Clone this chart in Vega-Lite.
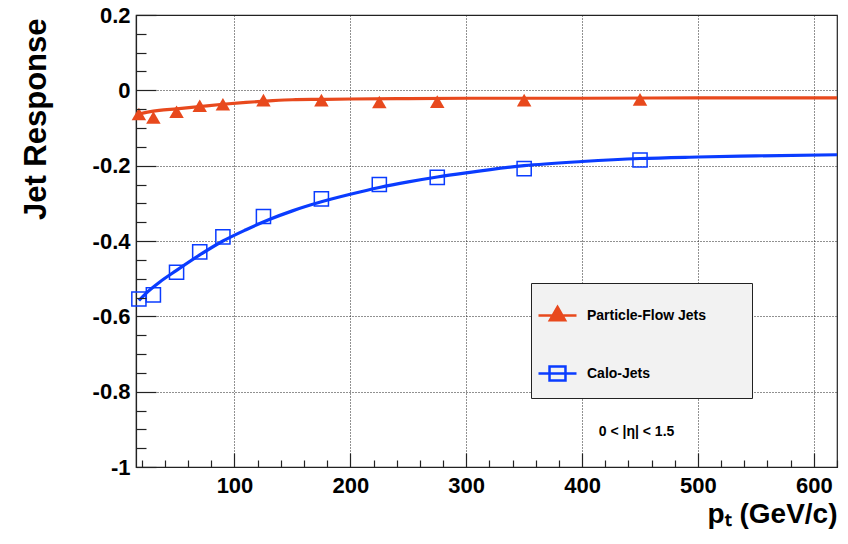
{
  "$schema": "https://vega.github.io/schema/vega-lite/v6.json",
  "width": 701,
  "height": 452,
  "autosize": {"type": "none"},
  "padding": {"left": 136, "top": 15, "right": 11, "bottom": 77},
  "background": "white",
  "config": {
    "font": "Liberation Sans",
    "view": {"stroke": "#222", "strokeWidth": 1.2},
    "axis": {"labelFont": "Liberation Sans", "titleFont": "Liberation Sans"}
  },
  "datasets": {
    "fit": [
      {"pt": 17.5, "resp": -0.063, "series": "Particle-Flow Jets"},
      {"pt": 25, "resp": -0.058, "series": "Particle-Flow Jets"},
      {"pt": 35, "resp": -0.053, "series": "Particle-Flow Jets"},
      {"pt": 50, "resp": -0.049, "series": "Particle-Flow Jets"},
      {"pt": 70, "resp": -0.043, "series": "Particle-Flow Jets"},
      {"pt": 90, "resp": -0.037, "series": "Particle-Flow Jets"},
      {"pt": 110, "resp": -0.032, "series": "Particle-Flow Jets"},
      {"pt": 130, "resp": -0.028, "series": "Particle-Flow Jets"},
      {"pt": 150, "resp": -0.025, "series": "Particle-Flow Jets"},
      {"pt": 175, "resp": -0.024, "series": "Particle-Flow Jets"},
      {"pt": 200, "resp": -0.023, "series": "Particle-Flow Jets"},
      {"pt": 250, "resp": -0.022, "series": "Particle-Flow Jets"},
      {"pt": 300, "resp": -0.021, "series": "Particle-Flow Jets"},
      {"pt": 400, "resp": -0.021, "series": "Particle-Flow Jets"},
      {"pt": 500, "resp": -0.020, "series": "Particle-Flow Jets"},
      {"pt": 620, "resp": -0.020, "series": "Particle-Flow Jets"},
      {"pt": 17.5, "resp": -0.558, "series": "Calo-Jets"},
      {"pt": 25, "resp": -0.535, "series": "Calo-Jets"},
      {"pt": 35, "resp": -0.510, "series": "Calo-Jets"},
      {"pt": 50, "resp": -0.478, "series": "Calo-Jets"},
      {"pt": 70, "resp": -0.437, "series": "Calo-Jets"},
      {"pt": 90, "resp": -0.400, "series": "Calo-Jets"},
      {"pt": 110, "resp": -0.370, "series": "Calo-Jets"},
      {"pt": 130, "resp": -0.343, "series": "Calo-Jets"},
      {"pt": 150, "resp": -0.320, "series": "Calo-Jets"},
      {"pt": 175, "resp": -0.296, "series": "Calo-Jets"},
      {"pt": 200, "resp": -0.276, "series": "Calo-Jets"},
      {"pt": 225, "resp": -0.258, "series": "Calo-Jets"},
      {"pt": 250, "resp": -0.243, "series": "Calo-Jets"},
      {"pt": 275, "resp": -0.230, "series": "Calo-Jets"},
      {"pt": 300, "resp": -0.219, "series": "Calo-Jets"},
      {"pt": 350, "resp": -0.200, "series": "Calo-Jets"},
      {"pt": 400, "resp": -0.189, "series": "Calo-Jets"},
      {"pt": 450, "resp": -0.181, "series": "Calo-Jets"},
      {"pt": 500, "resp": -0.177, "series": "Calo-Jets"},
      {"pt": 550, "resp": -0.174, "series": "Calo-Jets"},
      {"pt": 620, "resp": -0.171, "series": "Calo-Jets"}
    ],
    "points": [
      {"pt": 17.5, "resp": -0.063, "series": "Particle-Flow Jets"},
      {"pt": 30, "resp": -0.072, "series": "Particle-Flow Jets"},
      {"pt": 50, "resp": -0.057, "series": "Particle-Flow Jets"},
      {"pt": 70, "resp": -0.041, "series": "Particle-Flow Jets"},
      {"pt": 90, "resp": -0.037, "series": "Particle-Flow Jets"},
      {"pt": 125, "resp": -0.026, "series": "Particle-Flow Jets"},
      {"pt": 175, "resp": -0.026, "series": "Particle-Flow Jets"},
      {"pt": 225, "resp": -0.031, "series": "Particle-Flow Jets"},
      {"pt": 275, "resp": -0.030, "series": "Particle-Flow Jets"},
      {"pt": 350, "resp": -0.026, "series": "Particle-Flow Jets"},
      {"pt": 450, "resp": -0.024, "series": "Particle-Flow Jets"},
      {"pt": 17.5, "resp": -0.554, "series": "Calo-Jets"},
      {"pt": 30, "resp": -0.543, "series": "Calo-Jets"},
      {"pt": 50, "resp": -0.483, "series": "Calo-Jets"},
      {"pt": 70, "resp": -0.429, "series": "Calo-Jets"},
      {"pt": 90, "resp": -0.389, "series": "Calo-Jets"},
      {"pt": 125, "resp": -0.335, "series": "Calo-Jets"},
      {"pt": 175, "resp": -0.288, "series": "Calo-Jets"},
      {"pt": 225, "resp": -0.250, "series": "Calo-Jets"},
      {"pt": 275, "resp": -0.231, "series": "Calo-Jets"},
      {"pt": 350, "resp": -0.208, "series": "Calo-Jets"},
      {"pt": 450, "resp": -0.185, "series": "Calo-Jets"}
    ],
    "note": [
      {"pt": 447, "resp": -0.907, "label": "0 < |η| < 1.5"}
    ]
  },
  "resolve": {"axis": {"x": "independent", "y": "independent"}},
  "layer": [
    {
      "data": {"name": "fit"},
      "mark": {"type": "line", "strokeWidth": 3.2, "interpolate": "monotone", "clip": true},
      "encoding": {
        "x": {
          "field": "pt", "type": "quantitative",
          "scale": {"domain": [15, 620], "nice": false, "zero": false},
          "axis": {
            "orient": "bottom",
            "title": "pₜ (GeV/c)",
            "titleFontSize": 28, "titleFontWeight": "bold", "titleColor": "black",
            "titleAnchor": "end", "titleAlign": "right", "titleBaseline": "alphabetic",
            "titleX": 701, "titleY": 55,
            "values": [100, 200, 300, 400, 500, 600],
            "format": "d",
            "labelFontSize": 22, "labelFontWeight": "bold", "labelColor": "black",
            "labelPadding": 22,
            "tickSize": -14, "tickColor": "#222", "tickWidth": 1.2,
            "domainColor": "#222", "domainWidth": 1.2,
            "grid": true, "gridColor": "#222", "gridDash": [1, 2], "gridWidth": 1
          }
        },
        "y": {
          "field": "resp", "type": "quantitative",
          "scale": {"domain": [-1, 0.2], "nice": false, "zero": false},
          "axis": {
            "orient": "left",
            "title": "Jet Response",
            "titleFontSize": 31, "titleFontWeight": "bold", "titleColor": "black",
            "titleAngle": -90, "titleAlign": "right", "titleBaseline": "alphabetic",
            "titleX": -91, "titleY": 3,
            "values": [-1, -0.8, -0.6, -0.4, -0.2, 0, 0.2],
            "labelExpr": "'' + datum.value",
            "labelFontSize": 22, "labelFontWeight": "bold", "labelColor": "black",
            "labelPadding": 26,
            "tickSize": -20, "tickColor": "#222", "tickWidth": 1.2,
            "domainColor": "#222", "domainWidth": 1.2,
            "grid": true, "gridColor": "#222", "gridDash": [1, 2], "gridWidth": 1
          }
        },
        "color": {
          "field": "series", "type": "nominal",
          "scale": {"domain": ["Particle-Flow Jets", "Calo-Jets"], "range": ["#e8491d", "#0a3cff"]},
          "legend": {
            "orient": "none", "legendX": 395, "legendY": 268,
            "title": null,
            "fillColor": "#f2f2f2", "strokeColor": "#222", "padding": 12,
            "rowPadding": 27, "symbolSize": 1444, "labelOffset": 9, "symbolOffset": -6,
            "labelFontSize": 14, "labelFontWeight": "bold", "labelColor": "black",
            "labelExpr": "datum.label + ' \u2800\u2800\u2800'",
            "encode": {
              "symbols": {
                "update": {
                  "shape": {"signal": "datum.value === 'Calo-Jets' ? 'M-1,0H1M-0.42,-0.37H0.42V0.37H-0.42Z' : 'M-1,0H1M0,-0.45L0.4,0.25L-0.4,0.25Z'"},
                  "fill": {"signal": "datum.value === 'Calo-Jets' ? '#f2f2f2' : '#e8491d'"},
                  "fillOpacity": {"signal": "datum.value === 'Calo-Jets' ? 0 : 1"},
                  "stroke": {"signal": "datum.value === 'Calo-Jets' ? '#0a3cff' : '#e8491d'"},
                  "strokeWidth": {"value": 2.5},
                  "size": {"value": 1444},
                  "opacity": {"value": 1}
                }
              }
            }
          }
        }
      }
    },
    {
      "data": {"name": "points"},
      "transform": [{"filter": "datum.series === 'Particle-Flow Jets'"}],
      "mark": {"type": "point", "shape": "triangle-up", "filled": true, "size": 210, "opacity": 1},
      "encoding": {
        "x": {
          "field": "pt", "type": "quantitative",
          "axis": {
            "orient": "bottom", "title": null, "labels": false, "grid": false, "domain": false,
            "values": [20, 40, 60, 80, 120, 140, 160, 180, 220, 240, 260, 280, 320, 340, 360, 380, 420, 440, 460, 480, 520, 540, 560, 580, 620],
            "tickSize": -7, "tickColor": "#222", "tickWidth": 1.2, "zindex": 1
          }
        },
        "y": {
          "field": "resp", "type": "quantitative",
          "axis": {
            "orient": "left", "title": null, "labels": false, "grid": false, "domain": false,
            "values": [-0.95, -0.9, -0.85, -0.75, -0.7, -0.65, -0.55, -0.5, -0.45, -0.35, -0.3, -0.25, -0.15, -0.1, -0.05, 0.05, 0.1, 0.15],
            "tickSize": -10, "tickColor": "#222", "tickWidth": 1.2, "zindex": 1
          }
        },
        "color": {"field": "series", "type": "nominal"}
      }
    },
    {
      "data": {"name": "points"},
      "transform": [{"filter": "datum.series === 'Calo-Jets'"}],
      "mark": {"type": "point", "shape": "square", "filled": false, "size": 200, "strokeWidth": 1.5, "opacity": 1},
      "encoding": {
        "x": {"field": "pt", "type": "quantitative", "axis": null},
        "y": {"field": "resp", "type": "quantitative", "axis": null},
        "color": {"field": "series", "type": "nominal"}
      }
    },
    {
      "data": {"name": "note"},
      "mark": {"type": "text", "font": "Liberation Sans", "fontSize": 14, "fontWeight": "bold", "color": "black", "align": "center", "baseline": "middle"},
      "encoding": {
        "x": {"field": "pt", "type": "quantitative", "axis": null},
        "y": {"field": "resp", "type": "quantitative", "axis": null},
        "text": {"field": "label"}
      }
    }
  ]
}
